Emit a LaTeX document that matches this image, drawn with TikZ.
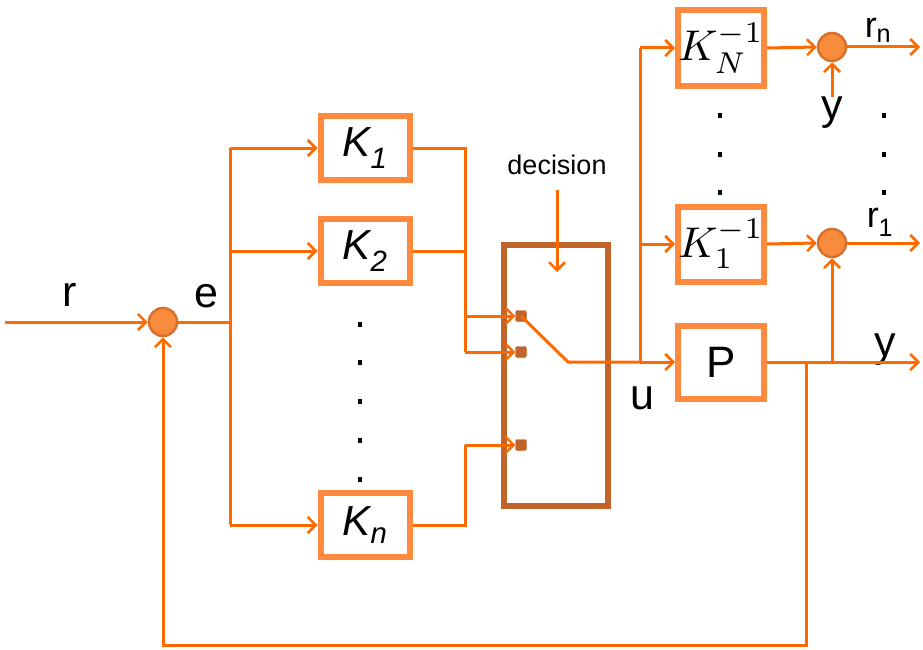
\documentclass[tikz,border=0pt]{standalone}
\usepackage{fontspec}
\setmainfont{Liberation Sans}
\usetikzlibrary{arrows.meta}
\definecolor{lineor}{HTML}{FF6A00}
\definecolor{boxor}{HTML}{FF8A3D}
\definecolor{sumfill}{HTML}{F98B3C}
\definecolor{sumbd}{HTML}{D8702C}
\definecolor{swbr}{HTML}{C0642A}
\tikzset{
  sig/.style={draw=lineor, line width=3pt},
  arr/.style={sig, -{Straight Barb[length=8pt,width=16pt,line width=2.5pt]}},
  blk/.style={draw=boxor, line width=6pt, minimum width=89pt, minimum height=64pt, inner sep=0pt, fill=white},
  sumc/.style={circle, draw=sumbd, line width=2.5pt, fill=sumfill, minimum size=28pt, inner sep=0pt},
  lab/.style={font=\fontsize{43}{43}\selectfont, inner sep=0pt},
  slab/.style={font=\fontsize{36}{36}\selectfont, inner sep=0pt},
  klab/.style={font=\fontsize{42}{42}\selectfont\itshape},
  term/.style={draw=swbr, fill=swbr, minimum size=11pt, inner sep=0pt, rounded corners=2pt},
  dotmark/.style={fill=black},
}
\newcommand{\invlab}[1]{\scalebox{4.3}{$K_{#1}^{-1}$}}
\begin{document}
\begin{tikzpicture}[x=1pt,y=-1pt]
\useasboundingbox (0,0) rectangle (923,650);
% blocks
\node[sumc] (s0) at (163,322) {};
\node[blk, klab] (k1) at (365,148) {K\textsubscript{1}};
\node[blk, klab] (k2) at (365,251) {K\textsubscript{2}};
\node[blk, klab] (kn) at (365,525) {K\textsubscript{n}};
\node[draw=swbr, line width=6pt, minimum width=104pt, minimum height=261pt, inner sep=0pt] (sw) at (556,375) {};
\node[term] (t1) at (521,316) {};
\node[term] (t2) at (521,352) {};
\node[term] (t3) at (521,445) {};
\node[blk, minimum width=86pt, minimum height=73pt, font=\fontsize{44}{44}\selectfont] (P) at (721,362) {P};
\node[blk, minimum width=86pt, minimum height=76pt] (kNi) at (721,48) {\invlab{N}};
\node[blk, minimum width=86pt, minimum height=75pt] (k1i) at (721,244) {\invlab{1}};
\node[sumc] (sN) at (832,47) {};
\node[sumc] (s1) at (832,243) {};
% labels
\node[lab] (lr) at (70,295) {r};
\node[lab] (le) at (206,296) {e};
\node[lab] (lu) at (642,398) {u};
\node[lab] (ly) at (885,350) {y};
\node[lab] (lyN) at (832,113) {y};
\node[slab] (lrn) at (878,30) {r\textsubscript{n}};
\node[slab] (lr1) at (880,222) {r\textsubscript{1}};
\node[font=\fontsize{27}{27}\selectfont, inner sep=0pt] (dec) at (557,165) {decision};
% coordinates
\coordinate (rin) at (5,322);
\coordinate (eb) at (230,322);
\coordinate (e1) at (230,148);
\coordinate (e2) at (230,251);
\coordinate (en) at (230,525);
\coordinate (c1) at (465,148);
\coordinate (c2) at (465,251);
\coordinate (ca) at (465,316);
\coordinate (cb) at (465,352);
\coordinate (cn) at (465,525);
\coordinate (cc) at (465,445);
\coordinate (bl) at (568,362);
\coordinate (ub) at (640,362);
\coordinate (uN) at (640,48);
\coordinate (u1) at (640,244);
\coordinate (rnout) at (920,47);
\coordinate (r1out) at (920,243);
\coordinate (yout) at (920,362);
\coordinate (yb) at (832,362);
\coordinate (fb) at (806,362);
\coordinate (fb1) at (806,645);
\coordinate (fb2) at (163,645);
\coordinate (dtop) at (557,190);
\coordinate (dbot) at (557,272);
% connectors
\draw[arr] (rin) -- (s0.west);
\draw[sig] (s0.east) -- (eb);
\draw[sig] (e1) -- (en);
\draw[arr] (e1) -- (k1.west);
\draw[arr] (e2) -- (k2.west);
\draw[arr] (en) -- (kn.west);
\draw[sig] (k1.east) -- (c1) -- (cb);
\draw[sig] (k2.east) -- (c2);
\draw[arr] (ca) -- (t1.west);
\draw[arr] (cb) -- (t2.west);
\draw[sig] (kn.east) -- (cn) -- (cc);
\draw[arr] (cc) -- (t3.west);
\draw[sig] (t1.center) -- (bl) -- (ub);
\draw[arr] (ub) -- (P.west);
\draw[sig] (ub) -- (uN);
\draw[arr] (uN) -- (kNi.west);
\draw[arr] (u1) -- (k1i.west);
\draw[arr] (kNi.east) -- (sN.west);
\draw[arr] (k1i.east) -- (s1.west);
\draw[arr] (sN.east) -- (rnout);
\draw[arr] (s1.east) -- (r1out);
\draw[arr] (lyN.north) -- (sN.south);
\draw[arr] (P.east) -- (yout);
\draw[arr] (yb) -- (s1.south);
\draw[arr] (fb) -- (fb1) -- (fb2) -- (s0.south);
\draw[arr] (dtop) -- (dbot);
% dots
\foreach \yy in {322,360,399,438,477} \fill[dotmark] (358,\yy) rectangle ++(4,5);
\foreach \yy in {113,152,190} {\fill[dotmark] (718,\yy) rectangle ++(4,5); \fill[dotmark] (882,\yy) rectangle ++(4,5);}
\end{tikzpicture}
\end{document}
